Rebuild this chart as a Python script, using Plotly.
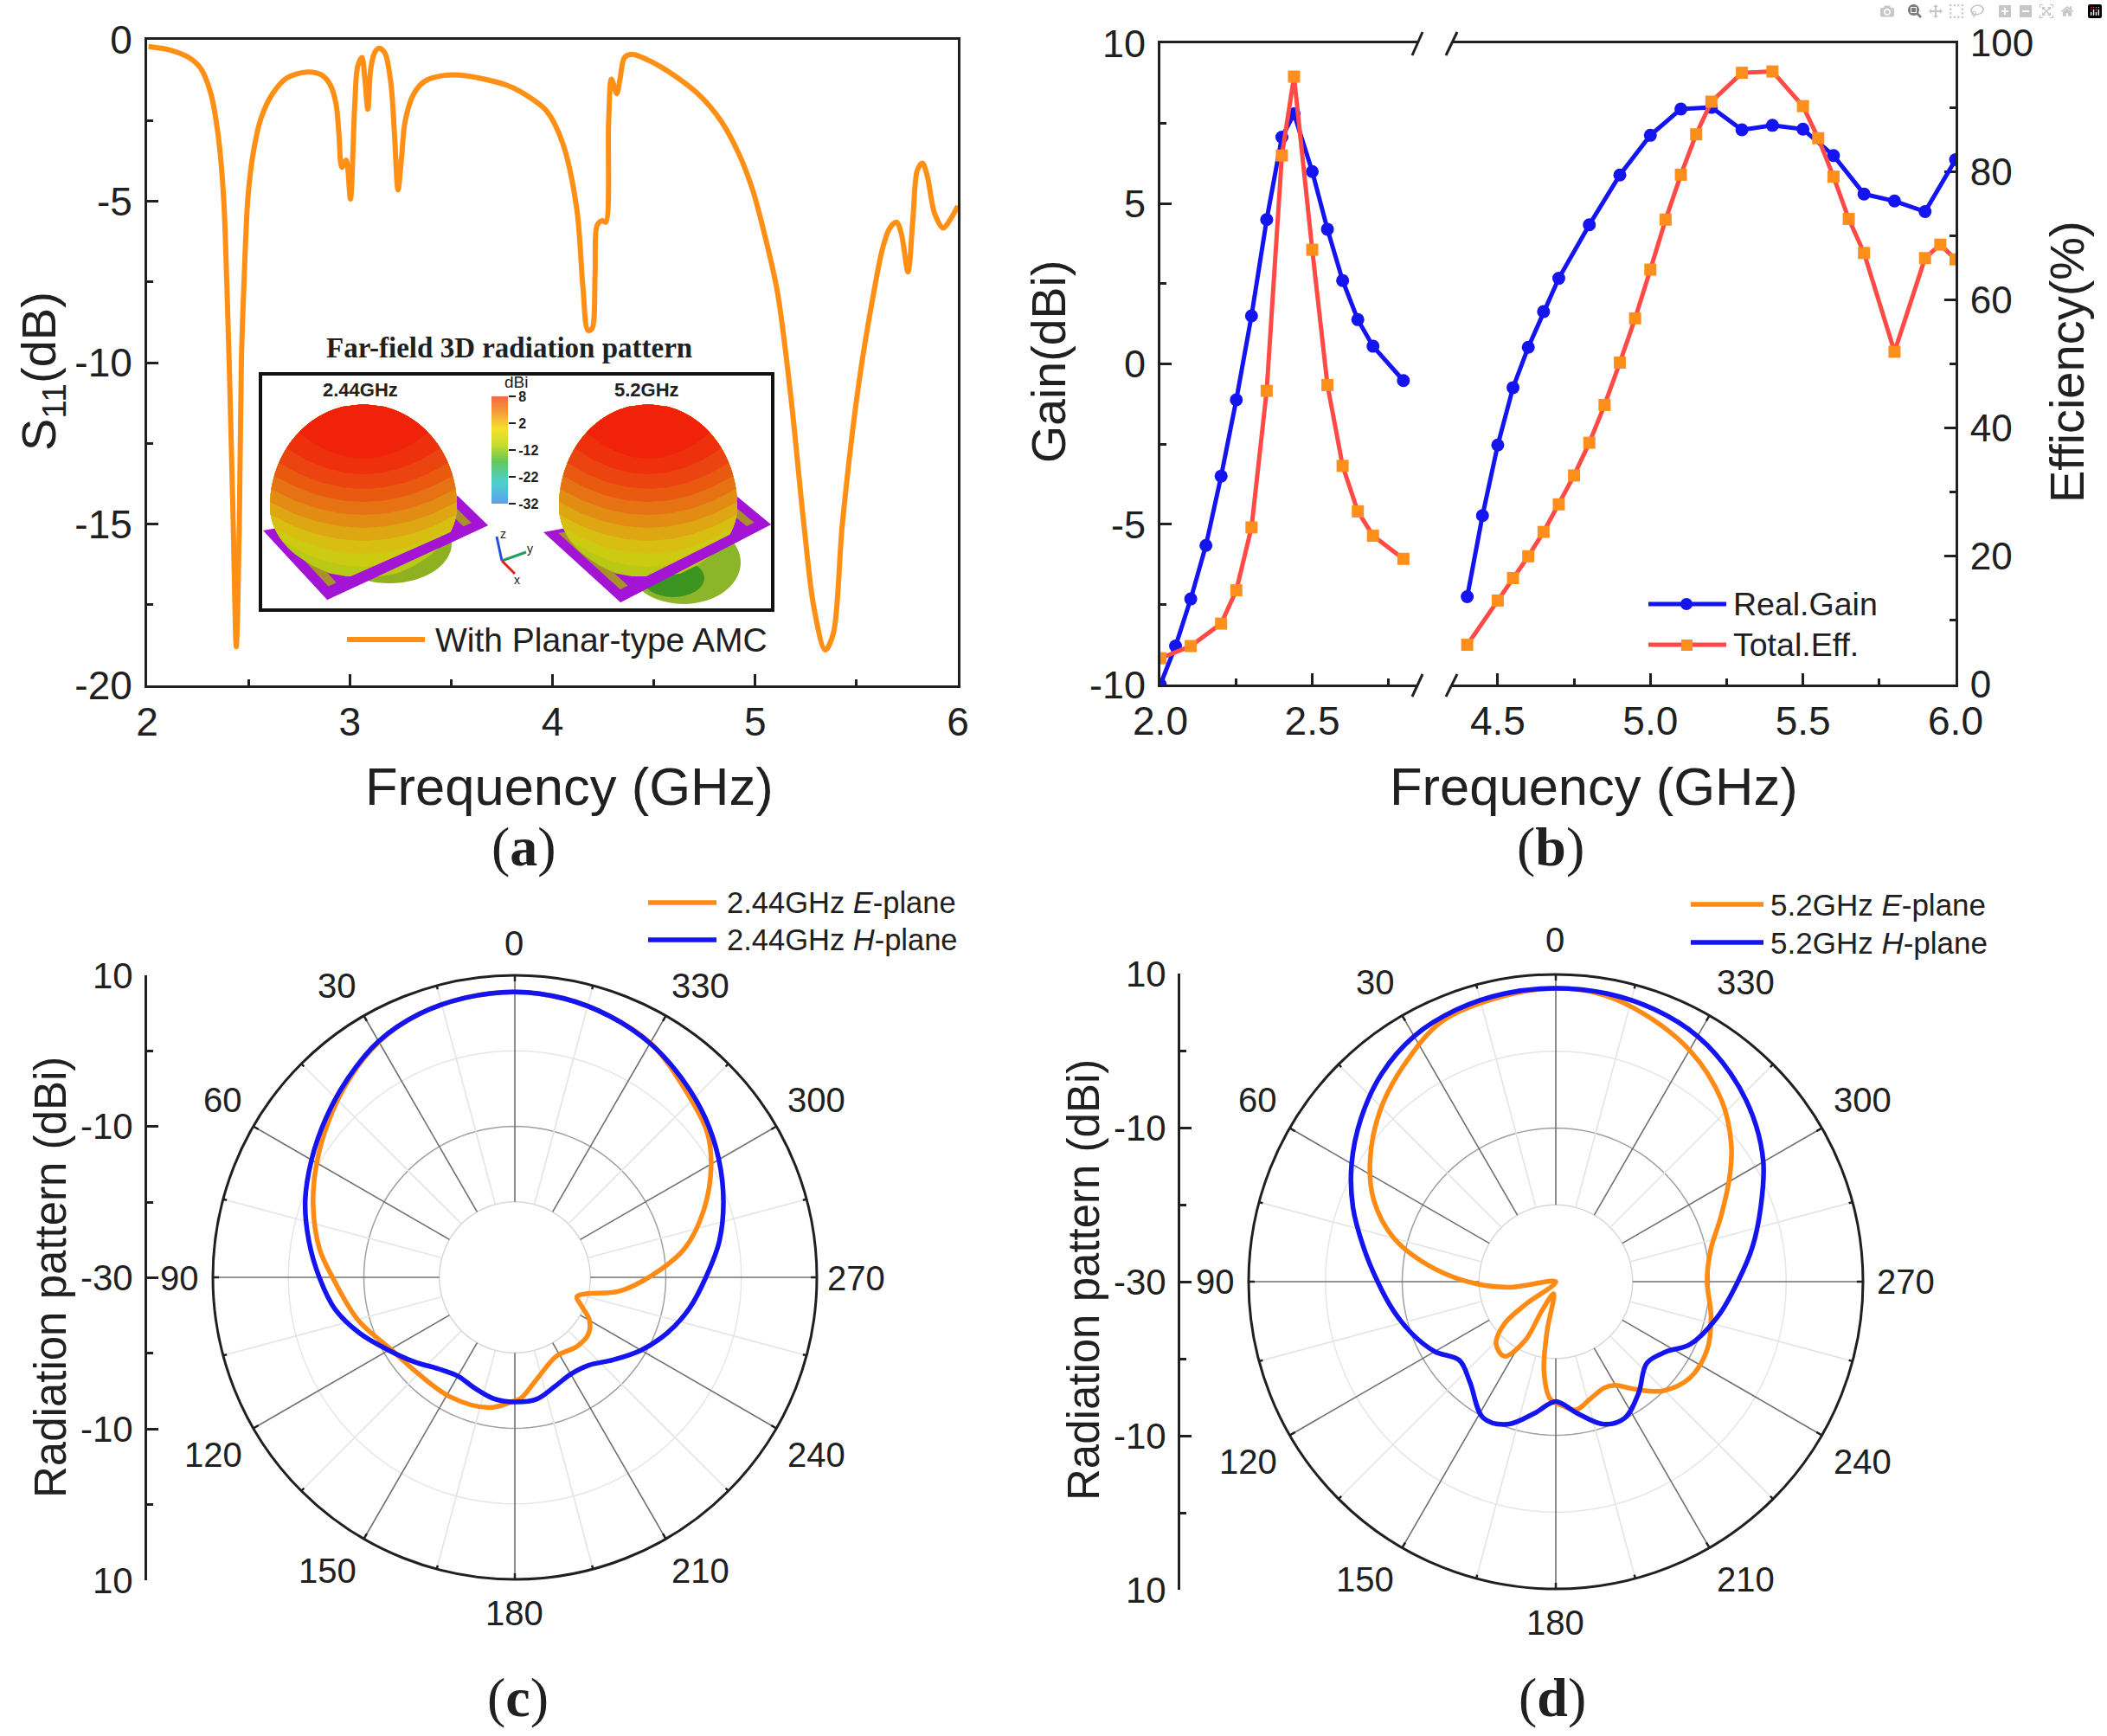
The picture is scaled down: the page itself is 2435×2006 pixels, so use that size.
import plotly.graph_objects as go

W = 2435
H = 2006

ORANGE = '#FF9015'
BLUE = '#1414F0'
RED = '#FF4A45'
SQUARE = '#FF8F1C'
INK = '#202020'
SANS = 'Liberation Sans'
SERIF = 'Liberation Serif'

# (a) S11
s11_freq = [2.007, 2.121, 2.206, 2.263, 2.313, 2.349, 2.377, 2.394, 2.405, 2.425, 2.44, 2.455, 2.465, 2.477, 2.498, 2.526, 2.562, 2.619,
            2.69, 2.79, 2.861, 2.904, 2.932, 2.946, 2.961, 2.982, 3.003, 3.024, 3.039, 3.06, 3.074, 3.089, 3.103, 3.124, 3.146, 3.174, 3.203,
            3.22, 3.238, 3.255, 3.273, 3.316, 3.373, 3.459, 3.572, 3.772, 3.84, 3.97, 4.05, 4.12, 4.15, 4.175, 4.195, 4.21, 4.22, 4.245, 4.263,
            4.277, 4.291, 4.317, 4.334, 4.355, 4.391, 4.476, 4.618, 4.732, 4.832, 4.917, 4.988, 5.045, 5.109, 5.175, 5.24, 5.29,
            5.345, 5.385, 5.43, 5.51, 5.586, 5.629, 5.664, 5.697, 5.721, 5.754, 5.778, 5.8, 5.825, 5.849, 5.885, 5.927, 5.963, 6.0]
s11_db = [-0.21, -0.33, -0.55, -0.87, -1.63, -2.88, -4.84, -7.7, -10, -15, -18.8, -15, -10, -7.7, -4.84, -3.41, -2.43, -1.67,
          -1.18, -1.0, -1.09, -1.4, -1.98, -2.88, -3.95, -3.73, -4.93, -2.07, -0.82, -0.55, -1.18, -2.15, -0.91, -0.38, -0.26, -0.42, -1.36,
          -2.88, -4.65, -3.68, -2.52, -1.67, -1.27, -1.11, -1.11, -1.4, -1.6, -2.2, -3.2, -5.25, -7.65, -9.0, -8.95, -7.3, -5.75, -5.6, -5.65,
          -2.52, -1.22, -1.67, -1.18, -0.55, -0.45, -0.64, -1.18, -1.76, -2.52, -3.5, -4.66, -6.0, -7.79, -11, -15, -17.6,
          -18.9, -18.4, -15, -10.7, -7.79, -6.45, -5.83, -5.65, -6.0, -7.19, -5.56, -4.04, -3.82, -4.22, -5.38, -5.83, -5.56, -5.15]

# (b) gain / efficiency, low band then high band
gain_low_f = [2.0, 2.05, 2.1, 2.15, 2.2, 2.25, 2.3, 2.35, 2.4, 2.44, 2.5, 2.55, 2.6, 2.65, 2.7, 2.8]
gain_low = [-10, -8.8, -7.33, -5.66, -3.5, -1.12, 1.5, 4.5, 7.07, 7.8, 6.0, 4.2, 2.6, 1.38, 0.55, -0.52]
eff_low_f = [2.0, 2.1, 2.2, 2.25, 2.3, 2.35, 2.4, 2.44, 2.5, 2.55, 2.6, 2.65, 2.7, 2.8]
eff_low = [4.1, 6.0, 9.5, 14.7, 24.5, 45.8, 82.5, 94.8, 67.8, 46.7, 34.1, 27, 23.2, 19.6]
gain_high_f = [4.4, 4.45, 4.5, 4.55, 4.6, 4.65, 4.7, 4.8, 4.9, 5.0, 5.1, 5.2, 5.3, 5.4, 5.5, 5.6, 5.7, 5.8, 5.9, 6.0]
gain_high = [-7.26, -4.73, -2.53, -0.74, 0.52, 1.63, 2.67, 4.34, 5.89, 7.13, 7.95, 8.0, 7.3, 7.44, 7.32, 6.5, 5.3, 5.08, 4.75, 6.37]
eff_high_f = [4.4, 4.5, 4.55, 4.6, 4.65, 4.7, 4.75, 4.8, 4.85, 4.9, 4.95, 5.0, 5.05, 5.1, 5.15, 5.2, 5.3, 5.4, 5.5,
              5.55, 5.6, 5.65, 5.7, 5.8, 5.9, 5.95, 6.0]
eff_high = [6.2, 13.1, 16.6, 20, 23.8, 28.1, 32.6, 37.7, 43.6, 50.2, 57.1, 64.7, 72.5, 79.5, 85.8, 90.9, 95.4, 95.6, 90.2,
            85.2, 79.2, 72.6, 67.3, 51.9, 66.5, 68.6, 66.3]

# (c) 2.44 GHz pattern
c_h_theta = [0, 10, 20, 30, 40, 50, 60, 70, 80, 90, 100, 110, 120, 130, 140, 150, 160, 170, 180, 190, 200, 210,
             220, 230, 240, 250, 260, 270, 280, 290, 300, 310, 320, 330, 340, 350, 360]
c_h_db = [7.8, 7.6, 7.1, 6.1, 4.4, 2.7, 1.1, -0.45, -2.3, -4.1, -5.8, -8.2, -10.7, -12.6, -14.2, -14.9, -14.4, -13.7, -13.5, -13.6, -14.6, -15.2,
          -14.8, -13, -10.7, -8.5, -6.5, -4.7, -2.5, -0.6, 1.2, 2.9, 4.4, 5.8, 6.8, 7.5, 7.8]
c_e_theta = [0, 10, 20, 30, 40, 50, 60, 70.2, 81.7, 90, 105.4, 120, 134, 151.4, 168.7, 178.5, 183, 192.6, 208, 221.8,
             232.3, 240.1, 246.4, 252.7, 257, 262.4, 270.7, 279.6, 289.7, 299.6, 307, 318, 329.6, 340, 350, 360]
c_e_db = [7.8, 7.6, 7.1, 6.0, 4.2, 2.2, 0.3, -1.6, -3.85, -5.85, -8.5, -11, -11.9, -12, -12.4, -13.5, -14, -16.3, -18.2, -17.7,
          -17.7, -18.6, -20.3, -21.4, -20.3, -16.1, -11.9, -7.2, -3.4, -0.1, 1.9, 3.6, 5.8, 6.8, 7.5, 7.8]

# (d) 5.2 GHz pattern
d_h_theta = [0, 10, 20, 30, 40, 50, 60, 70, 80, 90, 100, 110, 120, 129.2, 139.4, 152, 161.3, 171, 180, 189, 198.7, 206.8,
             216.5, 228.2, 237.5, 245, 258, 270, 280, 290, 300, 310, 320, 330, 340, 350, 360]
d_h_db = [8.2, 8.1, 7.7, 6.9, 5.3, 3.1, 0.7, -1.9, -4.6, -6.8, -8.5, -10.1, -11.8, -13.8, -12.8, -9.9, -10.4, -12.7, -14.4, -12.7, -10.4, -10.1,
          -11.9, -14.1, -13, -10.7, -8.4, -6.3, -4, -1.6, 1.2, 3.5, 5.4, 6.9, 7.7, 8.1, 8.2]
d_e_theta = [0, 10.3, 23.5, 35.2, 45.9, 56.8, 65.8, 75, 84, 91.6, 97, 105, 127, 129.4, 136, 145.3, 152.4, 154.4, 170, 170,
             172.5, 177.3, 183.2, 189, 196.4, 204.4, 209.5, 216.4, 224.4, 234.4, 246, 257.5, 270.4, 281.7, 291.5, 301, 308,
             317.6, 329.9, 343.8, 352.5, 360]
d_e_db = [8.2, 7.8, 7.0, 4.4, 1.9, -1.1, -4, -8.2, -14.2, -19.7, -24.1, -30, -25, -21.3, -18.8, -18.2, -21.3, -25.8, -28.4, -23.3,
          -18.2, -14.7, -13.8, -13.1, -14.1, -14.8, -14.5, -12.6, -10.1, -8.5, -8.4, -9.3, -10.3, -9.4, -6.9, -3.6, -1,
          2, 4.8, 7, 8, 8.2]

angle_labels = ['0', '30', '60', '90', '120', '150', '180', '210', '240', '270', '300', '330']

# inset colour bar and balloon bands
bar_levels = [8, 5.5, 3, 0.5, -2, -4.5, -7, -9.5, -12, -14.5, -17, -19.5, -22, -24.5, -27, -29.5, -32]
bar_ticks = [8, -2, -12, -22, -32]
bar_labels = ['<b>8</b>', '<b>2</b>', '<b>-12</b>', '<b>-22</b>', '<b>-32</b>']
band_colors = ['#A4BE1C', '#BAC816', '#CCCB12', '#D8BE10', '#DEA612', '#E28C14', '#E67214', '#E95A10', '#EC4410', '#EE300C', '#F0220A']
band_cuts = [668, 640, 625, 610, 595, 580, 565, 550, 535, 518, 500]


def X(px):
    return px / W


def Y(py):
    return 1 - py / H


fig = go.Figure()
shapes = []
notes = []


def note(x, y, text, size, family=SANS, angle=0, anchor='center', color=INK):
    notes.append(dict(x=X(x), y=Y(y), xref='paper', yref='paper', text=text, showarrow=False, xanchor=anchor, yanchor='middle',
                      textangle=angle, font=dict(family=family, size=size, color=color)))


def seg(x0, y0, x1, y1, color, width):
    shapes.append(dict(type='line', xref='paper', yref='paper', x0=X(x0), y0=Y(y0), x1=X(x1), y1=Y(y1),
                       line=dict(color=color, width=width)))


def poly(points, color):
    path = 'M ' + ' L '.join(f'{X(a):.5f} {Y(b):.5f}' for a, b in points) + ' Z'
    shapes.append(dict(type='path', xref='paper', yref='paper', path=path, fillcolor=color, line=dict(width=0)))


def oval(cx, cy, rx, ry, color):
    shapes.append(dict(type='circle', xref='paper', yref='paper', x0=X(cx - rx), x1=X(cx + rx), y0=Y(cy + ry), y1=Y(cy - ry),
                       fillcolor=color, line=dict(width=0)))


def shrink(points, k):
    mx = sum(p[0] for p in points) / len(points)
    my = sum(p[1] for p in points) / len(points)
    return [(mx + (a - mx) * k, my + (b - my) * k) for a, b in points]


def egg_half(y, top, mid, bottom, half):
    # half width of the balloon outline at height y
    ry = mid - top if y < mid else bottom - mid
    u = min(1.0, abs(y - mid) / ry)
    return half * max(0, 1 - u ** 2) ** 0.5


def balloon(cx, top, mid, bottom, half):
    for cut, color in zip(band_cuts, band_colors):
        end = min(cut, bottom)
        left, right = [], []
        y = top
        while y <= end:
            w = egg_half(y, top, mid, bottom, half)
            left.append((cx - w, y))
            right.append((cx + w, y))
            y += 3
        w = egg_half(end, top, mid, bottom, half)
        sag = [(cx - w + 2 * w * k / 8, min(end + 30 * (1 - ((k - 4) / 4) ** 2), bottom)) for k in range(9)]
        poly(left + sag + right[::-1], color)


def axis_style(size=46, standoff=5):
    return dict(showgrid=False, zeroline=False, showline=True, linecolor=INK, linewidth=3, ticks='inside', ticklen=13, tickwidth=3,
                tickcolor=INK, tickfont=dict(family=SANS, size=size, color=INK), ticklabelstandoff=standoff, automargin=False)


# (a)
fig.add_trace(go.Scatter(x=s11_freq, y=s11_db, mode='lines', line=dict(color=ORANGE, width=6, shape='spline', smoothing=0.9),
                         xaxis='x', yaxis='y', hoverinfo='skip'))

# (b) blue first so the red curve sits on top
fig.add_trace(go.Scatter(x=gain_low_f, y=gain_low, mode='lines+markers', line=dict(color=BLUE, width=5),
                         marker=dict(symbol='circle', size=15, color=BLUE), xaxis='x2', yaxis='y2', hoverinfo='skip'))
fig.add_trace(go.Scatter(x=gain_high_f, y=gain_high, mode='lines+markers', line=dict(color=BLUE, width=5),
                         marker=dict(symbol='circle', size=15, color=BLUE), xaxis='x3', yaxis='y2', hoverinfo='skip'))
fig.add_trace(go.Scatter(x=eff_low_f, y=eff_low, mode='lines+markers', line=dict(color=RED, width=5),
                         marker=dict(symbol='square', size=14, color=SQUARE), xaxis='x2', yaxis='y3', hoverinfo='skip'))
fig.add_trace(go.Scatter(x=eff_high_f, y=eff_high, mode='lines+markers', line=dict(color=RED, width=5),
                         marker=dict(symbol='square', size=14, color=SQUARE), xaxis='x3', yaxis='y3', hoverinfo='skip'))

# inset colour bar
fig.add_trace(go.Heatmap(z=[[v] for v in bar_levels], y=bar_levels, x=[0], showscale=False, zmin=-32, zmax=8, zsmooth='best',
                         colorscale=[[0, '#5C9EEE'], [0.2, '#4FCFD0'], [0.4, '#62C85A'], [0.55, '#C8DC2C'], [0.7, '#F6E02C'],
                                     [0.85, '#F4A038'], [1, '#F26A44']],
                         xaxis='x4', yaxis='y4', hoverinfo='skip'))

# scale bars of the polar panels
fig.add_trace(go.Scatter(x=[], y=[], xaxis='x5', yaxis='y5', hoverinfo='skip'))
fig.add_trace(go.Scatter(x=[], y=[], xaxis='x6', yaxis='y6', hoverinfo='skip'))


def polar_grid(subplot):
    ring_theta = list(range(0, 361, 3))
    for level, color, width in [(-20, '#D8D8D8', 1.5), (-10, '#A0A0A0', 1.5), (0, '#E6E6E6', 1.5)]:
        fig.add_trace(go.Scatterpolar(theta=ring_theta, r=[level] * len(ring_theta), mode='lines', subplot=subplot,
                                      line=dict(color=color, width=width), hoverinfo='skip'))
    for angle in range(0, 360, 15):
        major = angle % 30 == 0
        fig.add_trace(go.Scatterpolar(theta=[angle, angle], r=[-20, 10], mode='lines', subplot=subplot,
                                      line=dict(color='#707070' if major else '#E4E4E4', width=1.6), hoverinfo='skip'))
        fig.add_trace(go.Scatterpolar(theta=[angle, angle], r=[9.2, 10] if major else [9.5, 10], mode='lines', subplot=subplot,
                                      line=dict(color=INK, width=2.5), hoverinfo='skip'))


polar_grid('polar')
polar_grid('polar2')
for theta, db, color, sub in [(c_e_theta, c_e_db, '#FF8A14', 'polar'), (c_h_theta, c_h_db, BLUE, 'polar'),
                              (d_e_theta, d_e_db, '#FF8A14', 'polar2'), (d_h_theta, d_h_db, BLUE, 'polar2')]:
    fig.add_trace(go.Scatterpolar(theta=theta, r=db, mode='lines', subplot=sub, hoverinfo='skip',
                                  line=dict(color=color, width=5.5, shape='spline', smoothing=1.0)))


def polar_layout(cx, cy, r):
    return dict(domain=dict(x=[X(cx - r), X(cx + r)], y=[Y(cy + r), Y(cy - r)]), bgcolor='rgba(0,0,0,0)',
                radialaxis=dict(range=[-30, 10], visible=False),
                angularaxis=dict(rotation=90, direction='counterclockwise', showgrid=False, linecolor=INK, linewidth=3,
                                 ticks='', showticklabels=False))


def scale_axis(top, bottom, anchor):
    style = axis_style(42)
    style.update(domain=[Y(bottom), Y(top)], anchor=anchor, range=[-40, 40], tickmode='array', tickvals=[-40, -20, 0, 20, 40],
                 ticktext=['10', '-10', '-30', '-10', '10'],
                 minor=dict(ticks='inside', ticklen=7, tickwidth=3, tickcolor=INK, tickvals=[-30, -10, 10, 30]))
    return style


# angle labels sit a little unevenly round the circles in the original
c_label_xy = [(594, 1090), (390, 1139), (257, 1271), (207, 1477), (247, 1681), (378, 1815),
              (594, 1864), (809, 1815), (943, 1681), (990, 1477), (943, 1271), (809, 1139)]
d_label_xy = [(1797, 1086), (1589, 1135), (1454, 1271), (1404, 1481), (1442, 1689), (1577, 1825),
              (1797, 1875), (2017, 1825), (2152, 1689), (2202, 1481), (2152, 1271), (2017, 1135)]
for label, (ax, ay), (bx, by) in zip(angle_labels, c_label_xy, d_label_xy):
    note(ax, ay, label, 40)
    note(bx, by, label, 40)

# inset: lobes, plates, balloons
oval(450, 628, 72, 46, '#8FB020')
oval(790, 650, 66, 48, '#8DB52A')
oval(778, 668, 36, 22, '#3C9420')
plate_a = [(304, 613), (378, 693), (564, 607), (529, 573)]
plate_b = [(628, 615), (717, 696), (891, 606), (851, 573)]
for plate in (plate_a, plate_b):
    poly(plate, '#A314D4')
    poly(shrink(plate, 0.88), '#A8902C')
    poly(shrink(plate, 0.78), '#A314D4')
balloon(420, 467, 585, 666, 108)
balloon(749, 467, 585, 666, 103)
for plate in (plate_a, plate_b):
    a, b = plate[1], plate[2]
    poly([a, b, (b[0] - 14, b[1] - 5), (a[0] - 2, a[1] - 14)], '#A314D4')
shapes.append(dict(type='rect', xref='paper', yref='paper', x0=X(301), x1=X(893), y0=Y(705), y1=Y(432),
                   line=dict(color='#111111', width=4)))
seg(580, 648, 574, 620, '#2050E0', 3)
seg(580, 648, 608, 638, '#20A060', 3)
seg(580, 648, 595, 663, '#E02020', 3)
note(581, 617, 'z', 14)
note(612, 634, 'y', 14)
note(597, 670, 'x', 14)
note(588, 402, '<b>Far-field 3D radiation pattern</b>', 33, family=SERIF)
note(416, 450, '<b>2.44GHz</b>', 22)
note(747, 450, '<b>5.2GHz</b>', 22)
note(596, 442, 'dBi', 19)

# legends
seg(401, 739, 491, 739, ORANGE, 6)
note(501, 739, 'With Planar-type AMC', 39, anchor='left')

seg(1905, 698, 1995, 698, BLUE, 5)
oval(1949, 698, 7, 7, BLUE)
note(2001, 698, 'Real.Gain', 37.5, anchor='left')
seg(1905, 745, 1995, 745, RED, 5)
shapes.append(dict(type='rect', xref='paper', yref='paper', x0=X(1943), x1=X(1956), y0=Y(752), y1=Y(739), fillcolor=SQUARE, line=dict(width=0)))
note(2001, 745, 'Total.Eff.', 37.5, anchor='left')

seg(749, 1043, 828, 1043, '#FF8A14', 5.5)
note(838, 1043, '2.44GHz <i>E</i>-plane', 34.5, anchor='left')
seg(749, 1086, 828, 1086, BLUE, 5.5)
note(838, 1086, '2.44GHz <i>H</i>-plane', 34.5, anchor='left')
seg(1954, 1045, 2038, 1045, '#FF8A14', 5.5)
note(2044, 1045, '5.2GHz <i>E</i>-plane', 35, anchor='left')
seg(1954, 1089, 2038, 1089, BLUE, 5.5)
note(2044, 1089, '5.2GHz <i>H</i>-plane', 35, anchor='left')

# axis break marks
for x0, x1 in [(1632, 1644), (1671, 1684)]:
    seg(x0, 64, x1, 37, INK, 3)
    seg(x0, 805, x1, 779, INK, 3)

# axis titles and panel letters
note(658, 908, 'Frequency (GHz)', 61.5)
note(49, 429, 'S<sub>11</sub>(dB)', 56, angle=-90)
note(1842, 908, 'Frequency (GHz)', 61.5)
note(1212, 418, 'Gain(dBi)', 55.5, angle=-90)
note(2389, 418, 'Efficiency(%)', 56, angle=-90)
note(58, 1476, 'Radiation pattern (dBi)', 51, angle=-90)
note(1252, 1479, 'Radiation pattern (dBi)', 51, angle=-90)
note(605, 978, '(<b>a</b>)', 64, family=SERIF)
note(1792, 978, '(<b>b</b>)', 64, family=SERIF)
note(598, 1961, '(<b>c</b>)', 64, family=SERIF)
note(1794, 1961, '(<b>d</b>)', 64, family=SERIF)

fig.update_layout(
    template='none',
    width=W, height=H, margin=dict(l=0, r=0, t=0, b=0), paper_bgcolor='white', plot_bgcolor='white', showlegend=False,
    shapes=shapes, annotations=notes,
    xaxis={**axis_style(standoff=0), 'domain': [X(170), X(1107)], 'range': [2, 6], 'anchor': 'y', 'mirror': True, 'tickmode': 'array',
           'tickvals': [2, 3, 4, 5, 6], 'ticktext': ['2', '3', '4', '5', '6'],
           'minor': dict(ticks='inside', ticklen=7, tickwidth=3, tickcolor=INK, tickvals=[2.5, 3.5, 4.5, 5.5])},
    yaxis={**axis_style(), 'domain': [Y(792), Y(46)], 'range': [-20, 0], 'anchor': 'x', 'mirror': True, 'tickmode': 'array',
           'tickvals': [-20, -15, -10, -5, 0], 'ticktext': ['-20', '-15', '-10', '-5', '0'],
           'minor': dict(ticks='inside', ticklen=7, tickwidth=3, tickcolor=INK, tickvals=[-17.5, -12.5, -7.5, -2.5])},
    xaxis2={**axis_style(standoff=0), 'domain': [X(1341), X(1638)], 'range': [2.0, 2.846], 'anchor': 'y2', 'mirror': True, 'tickmode': 'array',
            'tickvals': [2.0, 2.5], 'ticktext': ['2.0', '2.5'],
            'minor': dict(ticks='inside', ticklen=7, tickwidth=3, tickcolor=INK, tickvals=[2.25, 2.75])},
    xaxis3={**axis_style(standoff=0), 'domain': [X(1678), X(2260)], 'range': [4.35, 6.0], 'anchor': 'y2', 'mirror': True, 'tickmode': 'array',
            'tickvals': [4.5, 5.0, 5.5, 6.0], 'ticktext': ['4.5', '5.0', '5.5', '6.0'],
            'minor': dict(ticks='inside', ticklen=7, tickwidth=3, tickcolor=INK, tickvals=[4.75, 5.25, 5.75])},
    yaxis2={**axis_style(45), 'domain': [Y(791), Y(50)], 'range': [-10, 10], 'anchor': 'x2', 'tickmode': 'array',
            'tickvals': [-10, -5, 0, 5, 10], 'ticktext': ['-10', '-5', '0', '5', '10'],
            'minor': dict(ticks='inside', ticklen=7, tickwidth=3, tickcolor=INK, tickvals=[-7.5, -2.5, 2.5, 7.5])},
    yaxis3={**axis_style(44), 'domain': [Y(791), Y(50)], 'range': [0, 100], 'anchor': 'x3', 'side': 'right', 'overlaying': 'y2',
            'tickmode': 'array', 'tickvals': [0, 20, 40, 60, 80, 100],
            'minor': dict(ticks='inside', ticklen=7, tickwidth=3, tickcolor=INK, tickvals=[10, 30, 50, 70, 90])},
    xaxis4=dict(domain=[X(568), X(587)], visible=False, anchor='y4', range=[-0.5, 0.5]),
    yaxis4=dict(domain=[Y(582), Y(458)], anchor='x4', side='right', range=[-32, 8], showgrid=False, zeroline=False, showline=False,
                tickmode='array', tickvals=bar_ticks, ticktext=bar_labels, ticks='outside', ticklen=8, tickwidth=2, tickcolor=INK,
                automargin=False, tickfont=dict(family=SANS, size=16, color=INK)),
    xaxis5=dict(domain=[X(170), X(172)], visible=False, anchor='y5'),
    yaxis5=scale_axis(1127, 1826, 'x5'),
    xaxis6=dict(domain=[X(1364), X(1366)], visible=False, anchor='y6'),
    yaxis6=scale_axis(1125, 1837, 'x6'),
    polar=polar_layout(595, 1476, 349),
    polar2=polar_layout(1798, 1481, 355),
)

fig.write_html("out.html", post_script="document.body.style.margin='0';")
